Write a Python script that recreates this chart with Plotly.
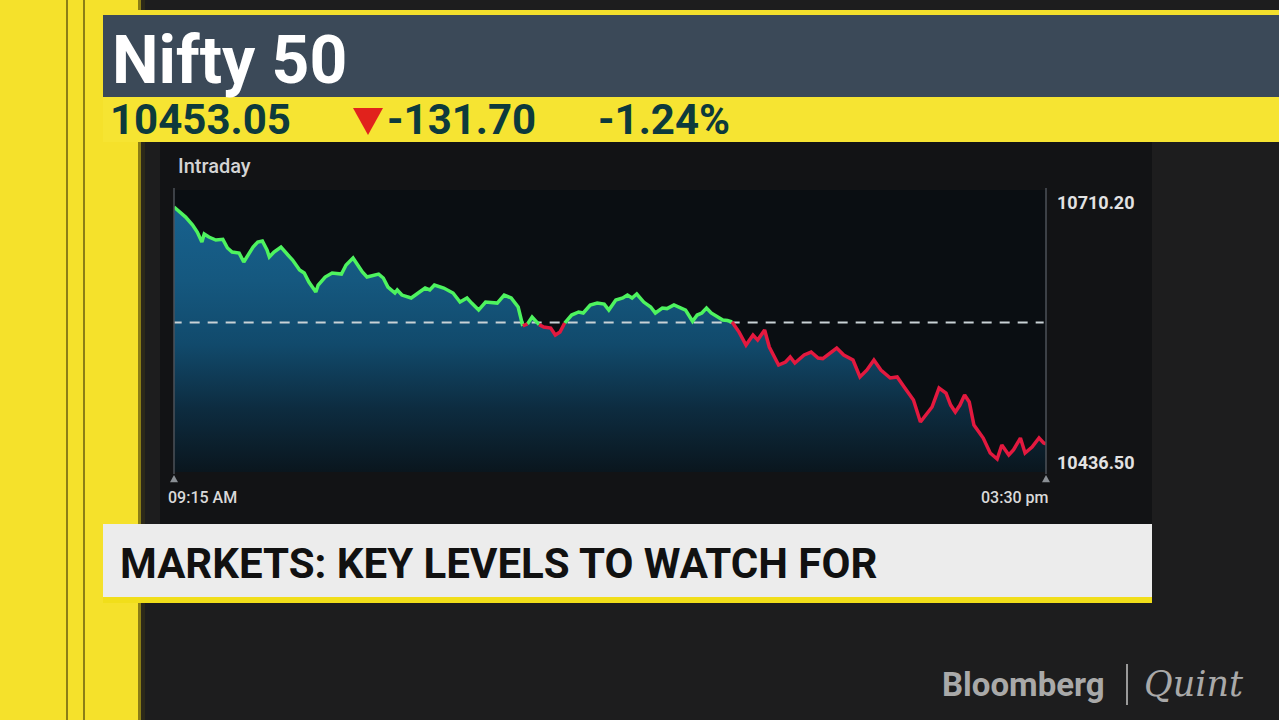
import plotly.graph_objects as go

# Nifty 50 intraday (minutes after 09:15 open) and index level
minutes = [0, 3, 5, 8, 10, 12, 13, 15, 18, 21, 23, 25, 28, 30, 32, 34, 36, 38, 40, 41,
           43, 46, 49, 51, 54, 56, 58, 61, 62, 65, 68, 70, 72, 74, 77, 79, 81, 83, 86, 88,
           90, 92, 95, 96, 98, 102, 105, 108, 110, 112, 116, 120, 123, 126, 128, 131, 134, 137, 139, 142,
           145, 148, 150, 152, 154, 157, 159, 162, 164, 166, 168, 171, 174, 176, 179, 182, 185, 187, 190, 193,
           195, 197, 199, 202, 205, 207, 210, 212, 215, 218, 220, 223, 225, 227, 229, 231, 234, 236, 238, 240,
           243, 246, 249, 251, 254, 256, 260, 263, 265, 267, 271, 274, 277, 279, 282, 285, 288, 292, 295, 298,
           301, 304, 308, 311, 314, 318, 321, 324, 326, 329, 332, 334, 336, 338, 340, 342, 344, 348, 351, 354,
           356, 359, 361, 364, 366, 369, 372, 374, 375]
nifty = [10710.2, 10703.7, 10699.3, 10690.6, 10683.0, 10672.2, 10680.9, 10677.6, 10674.4, 10675.1,
         10665.7, 10661.3, 10660.2, 10650.5, 10658.1, 10666.8, 10672.2, 10673.3, 10663.5, 10655.9,
         10661.3, 10666.8, 10658.1, 10652.6, 10641.8, 10638.5, 10628.7, 10617.9, 10625.5, 10634.2,
         10638.5, 10637.9, 10637.4, 10647.2, 10654.8, 10647.2, 10639.6, 10634.2, 10636.3, 10637.4,
         10633.1, 10623.3, 10616.8, 10620.1, 10614.6, 10611.4, 10616.8, 10622.2, 10620.1, 10625.5,
         10622.2, 10616.8, 10607.0, 10611.4, 10605.9, 10598.3, 10607.0, 10606.2, 10605.9, 10614.6,
         10611.4, 10601.6, 10581.0, 10583.2, 10590.7, 10582.5, 10579.9, 10578.8, 10571.2, 10574.4,
         10584.2, 10592.9, 10596.2, 10595.1, 10603.8, 10605.9, 10604.8, 10598.3, 10609.2, 10611.4,
         10614.6, 10611.4, 10615.7, 10607.0, 10601.6, 10595.1, 10600.5, 10599.9, 10603.8, 10600.5,
         10598.3, 10586.1, 10592.9, 10595.1, 10600.5, 10595.1, 10590.7, 10587.5, 10586.9, 10585.3,
         10574.4, 10560.3, 10571.2, 10565.7, 10576.6, 10558.1, 10538.6, 10541.9, 10547.3, 10540.8,
         10549.5, 10552.7, 10546.2, 10545.6, 10551.6, 10557.1, 10549.5, 10544.0, 10525.6, 10533.2,
         10544.0, 10533.2, 10524.5, 10525.6, 10514.7, 10500.6, 10476.7, 10486.5, 10493.0, 10513.6,
         10508.2, 10495.1, 10487.5, 10495.1, 10506.0, 10498.4, 10473.4, 10459.3, 10443.0, 10436.5,
         10451.7, 10440.8, 10446.3, 10459.3, 10443.0, 10449.5, 10459.3, 10453.9, 10453.05]

last_price = 10453.05
change = -131.70
pct_change = -1.24
prev_close = 10584.75
day_high = 10710.20
day_low = 10436.50

W, H = 1279, 720


def px_x(x):
    return x / W


def px_y(y):
    return 1 - y / H


shapes = []


def rect(x0, y0, x1, y1, color):
    shapes.append(dict(type="rect", xref="paper", yref="paper", layer="below",
                       x0=px_x(x0), x1=px_x(x1), y0=px_y(y1), y1=px_y(y0),
                       fillcolor=color, line_width=0))


def vline(x, y0, y1, color, width, layer="below"):
    shapes.append(dict(type="line", xref="paper", yref="paper", layer=layer,
                       x0=px_x(x), x1=px_x(x), y0=px_y(y1), y1=px_y(y0),
                       line=dict(color=color, width=width)))


def tri(x, y, half, color, down=False):
    s = -1 if down else 1
    path = "M %f %f L %f %f L %f %f Z" % (px_x(x - half), px_y(y + s * half * 0.8),
                                         px_x(x + half), px_y(y + s * half * 0.8),
                                         px_x(x), px_y(y - s * half))
    shapes.append(dict(type="path", xref="paper", yref="paper", layer="above",
                       path=path, fillcolor=color, line_width=0))


# background furniture
rect(0, 0, 138, H, "#f5e12b")
rect(138, 0, 141, H, "#8a7d16")
rect(141, 0, 145, H, "#2c2919")
vline(67, 0, H, "#8c7e16", 2)
vline(84, 0, H, "#8c7e16", 2)
rect(103, 10, W, 15, "#f3df2c")
rect(103, 15, W, 97, "#3b4958")
rect(103, 97, W, 142, "#f6e432")
rect(160, 142, 1152, 524, "#121315")
rect(174, 190, 1046, 472, "#0a0e12")
rect(103, 524, 1152, 597, "#ececec")
rect(103, 597, 1152, 603, "#f1de1a")
vline(174, 188, 474, "#4c5258", 1.5, "above")
vline(1046, 188, 474, "#4c5258", 1.5, "above")
tri(174, 479, 4, "#8a8f94")
tri(1046, 479, 4, "#8a8f94")
tri(368, 120, 15, "#e1221c", down=True)
vline(1127, 664, 705, "#9a9a9a", 2)

fig = go.Figure()

# area under the line
fig.add_trace(go.Scatter(
    x=minutes, y=nifty, mode="lines", line=dict(width=0),
    fill="tozeroy",
    fillgradient=dict(type="vertical", start=10422.4, stop=10700,
                      colorscale=[[0, "#0a161e"], [0.25, "#0d2c40"], [0.5, "#114a6c"],
                                  [0.75, "#15587f"], [1, "#17608c"]]),
    hoverinfo="skip", showlegend=False))

# previous close
fig.add_trace(go.Scatter(
    x=[minutes[0] - 1, minutes[-1] - 1], y=[prev_close, prev_close], mode="lines",
    line=dict(color="#c9d2d6", width=2, dash="10px,8px"),
    hoverinfo="skip", showlegend=False))

# green above previous close, red below
runs = {"#4ef35f": ([], []), "#e3193f": ([], [])}
cur = None
for i in range(len(nifty) - 1):
    col = "#4ef35f" if (nifty[i] + nifty[i + 1]) / 2 >= prev_close else "#e3193f"
    xs, ys = runs[col]
    if col != cur:
        if xs:
            xs.append(None)
            ys.append(None)
        xs.append(minutes[i])
        ys.append(nifty[i])
    xs.append(minutes[i + 1])
    ys.append(nifty[i + 1])
    cur = col

for col, (xs, ys) in runs.items():
    fig.add_trace(go.Scatter(x=xs, y=ys, mode="lines", line=dict(color=col, width=3.5),
                             connectgaps=False, showlegend=False))

ann = []


def label(x, y, text, size, color, weight=400, anchor="left", family="Roboto", style="normal"):
    ann.append(dict(x=px_x(x), y=px_y(y), xref="paper", yref="paper", text=text,
                    showarrow=False, xanchor=anchor, yanchor="middle",
                    font=dict(family=family, size=size, color=color, weight=weight, style=style)))


label(110, 60, "Nifty 50", 66, "#ffffff", 700)
label(108, 120, "%.2f" % last_price, 42, "#0d3a3c", 700)
label(385, 120, "%.2f" % change, 42, "#0d3a3c", 700)
label(596, 120, "%.2f%%" % pct_change, 42, "#0d3a3c", 700)
label(176, 166, "Intraday", 20, "#d4d4d4", 500)
label(1055, 202, "%.2f" % day_high, 18, "#e2e2e2", 700)
label(1055, 462, "%.2f" % day_low, 18, "#e2e2e2", 700)
label(166, 497, "09:15 AM", 16, "#d9d9d9", 500)
label(1051, 497, "03:30 pm", 16, "#d9d9d9", 500, anchor="right")
label(118, 563, "MARKETS: KEY LEVELS TO WATCH FOR", 42, "#111111", 700)
label(940, 684, "Bloomberg", 33, "#a9a9a9", 700)
label(1142, 684, "Quint", 35, "#a9a9a9", 400, family="DejaVu Serif", style="italic")

fig.update_layout(
    width=W, height=H,
    margin=dict(l=0, r=0, t=0, b=0),
    paper_bgcolor="#1d1d1e",
    plot_bgcolor="#0a0e12",
    shapes=shapes,
    annotations=ann,
    xaxis=dict(domain=[px_x(174), px_x(1046)], range=[0, 375], visible=False, fixedrange=True),
    yaxis=dict(domain=[px_y(472), px_y(190)], range=[10422.4, 10728.7], visible=False, fixedrange=True),
    showlegend=False,
)

fig.write_html("out.html", config={"displayModeBar": False},
               post_script="document.body.style.margin='0';document.body.style.overflow='hidden';")
